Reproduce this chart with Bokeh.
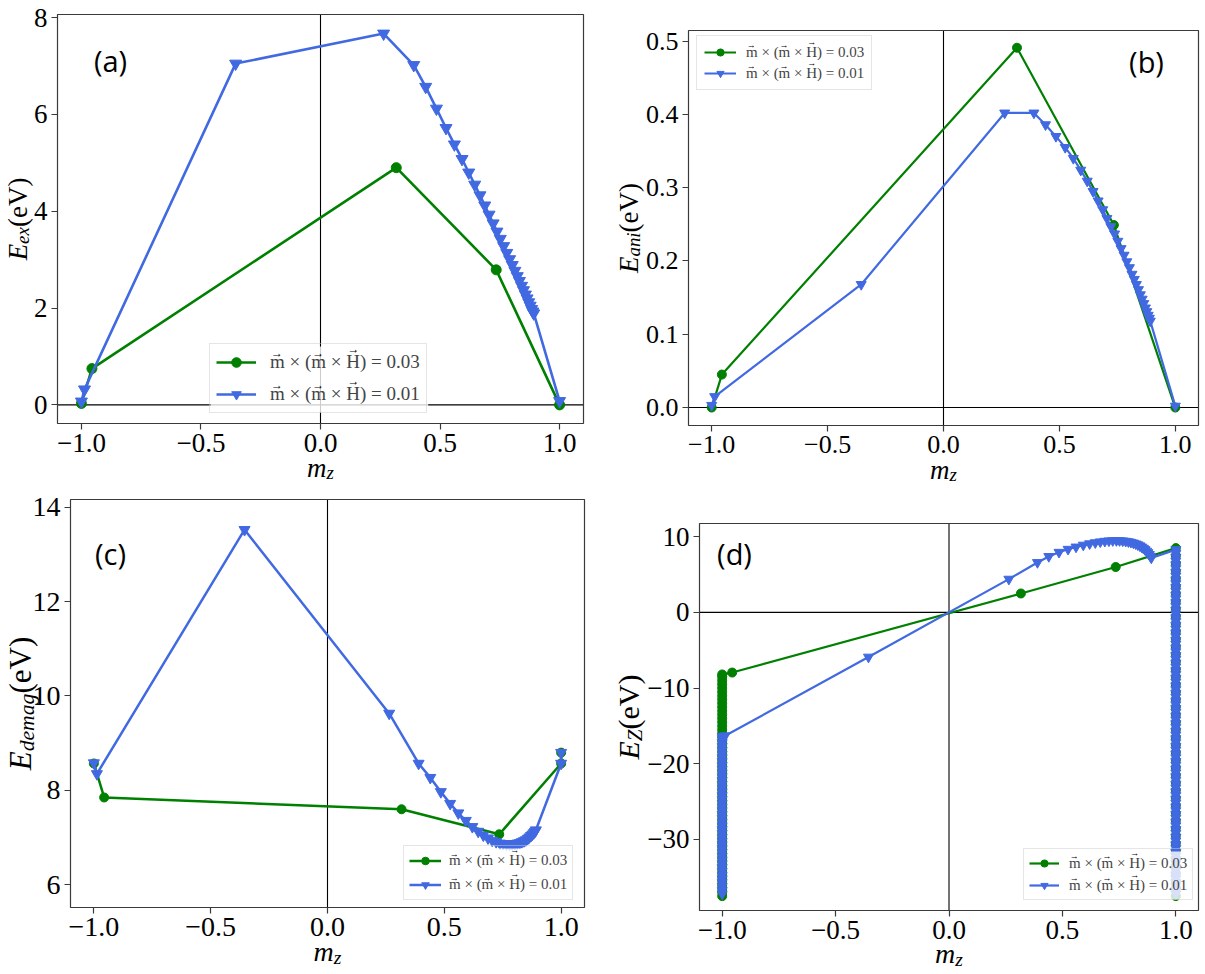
import math
from bokeh.plotting import figure
from bokeh.models import (Label, Legend, LegendItem, FixedTicker, Range1d, LinearAxis,
                          CustomJSTickFormatter)
from bokeh.embed import file_html
from bokeh.resources import INLINE

GREEN = "#008000"
BLUE = "#4169e1"
FRAME = "#3a3a3a"
SERIF = "Liberation Serif"
SANS = "Open Sans"
W, H = 1205, 974

LEG_03 = "m \u00d7 (m \u00d7 H) = 0.03"
LEG_01 = "m \u00d7 (m \u00d7 H) = 0.01"

X_TICKS = [-1.0, -0.5, 0.0, 0.5, 1.0]

# ---------------- shared trajectory (m_z) ----------------
green_mz_path = [-0.956, 0.317, 0.735]
blue_mz_path = [-0.987, -0.355, 0.264,
                0.390, 0.440, 0.485, 0.525, 0.560, 0.592, 0.620, 0.645, 0.667, 0.687,
                0.705, 0.722, 0.738, 0.752, 0.766, 0.779, 0.791, 0.802, 0.813, 0.823,
                0.832, 0.841, 0.849, 0.857, 0.864, 0.871, 0.877, 0.883, 0.888, 0.892]

# ---------------- (a) exchange energy ----------------
a_green_E = [0.03, 0.75, 4.90, 2.79, 0.0]
a_blue_E = [0.07, 0.32, 7.05, 7.67,
            7.02, 6.57, 6.12, 5.72, 5.38, 5.08, 4.80, 4.55, 4.33, 4.12,
            3.93, 3.75, 3.58, 3.43, 3.28, 3.14, 3.01, 2.89, 2.77, 2.66,
            2.56, 2.46, 2.37, 2.28, 2.20, 2.12, 2.05, 1.98, 1.93, 1.89,
            0.08]

# ---------------- (b) anisotropy energy ----------------
b_green_E = [0.0, 0.045, 0.491, 0.249, 0.0]
b_blue_E = [0.003, 0.015, 0.168, 0.402,
            0.402, 0.386, 0.370, 0.355, 0.340, 0.324, 0.309, 0.295, 0.282, 0.270,
            0.258, 0.247, 0.237, 0.227, 0.217, 0.208, 0.199, 0.191, 0.182, 0.175,
            0.168, 0.161, 0.154, 0.148, 0.142, 0.136, 0.131, 0.126, 0.122, 0.118,
            0.002]

# ---------------- (c) demagnetisation energy ----------------
c_green_E = [8.57, 7.85, 7.60, 7.07, 8.57, 8.80]
c_blue_E = [8.58, 8.35, 13.52, 9.63,
            8.57, 8.27, 7.97, 7.72, 7.52, 7.36, 7.23, 7.13, 7.05, 6.99,
            6.94, 6.91, 6.88, 6.87, 6.86, 6.86, 6.86, 6.87, 6.88, 6.89,
            6.91, 6.93, 6.95, 6.98, 7.01, 7.04, 7.07, 7.10, 7.13, 7.16,
            8.57, 8.80]

# ---------------- (d) Zeeman energy ----------------
d_green_left = [-37.5, -37.0, -36.5, -36.0, -35.5, -35.0, -34.5, -34.0, -33.5, -33.0,
                -32.5, -32.0, -31.5, -31.0, -30.5, -30.0, -29.5, -29.0, -28.5, -28.0,
                -27.5, -27.0, -26.5, -26.0, -25.5, -25.0, -24.5, -24.0, -23.5, -23.0,
                -22.5, -22.0, -21.5, -21.0, -20.5, -20.0, -19.5, -19.0, -18.5, -18.0,
                -17.5, -17.0, -16.5, -16.0, -15.5, -15.0, -14.5, -14.0, -13.5, -13.0,
                -12.5, -12.0, -11.5, -11.0, -10.5, -10.0, -9.5, -9.0, -8.5, -8.2]
d_green_mid = [-7.95, 2.5, 6.0]
d_green_right = [8.5, 7.5, 6.5, 5.5, 4.5, 3.5, 2.5, 1.5, 0.5, -0.5, -1.5, -2.5, -3.5,
                 -4.5, -5.5, -6.5, -7.5, -8.5, -9.5, -10.5, -11.5, -12.5, -13.5, -14.5,
                 -15.5, -16.5, -17.5, -18.5, -19.5, -20.5, -21.5, -22.5, -23.5, -24.5,
                 -25.5, -26.5, -27.5, -28.5, -29.5, -30.5, -31.5, -32.5, -33.5, -34.5,
                 -35.5, -36.5, -37.5]
d_blue_left = [-37.2, -36.7, -36.2, -35.7, -35.2, -34.7, -34.2, -33.7, -33.2, -32.7,
               -32.2, -31.7, -31.2, -30.7, -30.2, -29.7, -29.2, -28.7, -28.2, -27.7,
               -27.2, -26.7, -26.2, -25.7, -25.2, -24.7, -24.2, -23.7, -23.2, -22.7,
               -22.2, -21.7, -21.2, -20.7, -20.2, -19.7, -19.2, -18.7, -18.2, -17.7,
               -17.2, -16.7, -16.4]
d_blue_mid = [-16.3, -5.9, 4.4,
              6.6, 7.4, 7.95, 8.35, 8.65, 8.9, 9.08, 9.22, 9.33, 9.41,
              9.46, 9.49, 9.50, 9.49, 9.46, 9.41, 9.35, 9.27, 9.18, 9.07,
              8.95, 8.81, 8.66, 8.49, 8.31, 8.11, 7.90, 7.66, 7.43, 7.2]
d_blue_right = [8.3, 7.8, 7.3, 6.8, 6.3, 5.8, 5.3, 4.8, 4.3, 3.8, 3.3, 2.8, 2.3, 1.8,
                1.3, 0.8, 0.3, -0.2, -0.7, -1.2, -1.7, -2.2, -2.7, -3.2, -3.7, -4.2,
                -4.7, -5.2, -5.7, -6.2, -6.7, -7.2, -7.7, -8.2, -8.7, -9.2, -9.7, -10.2,
                -10.7, -11.2, -11.7, -12.2, -12.7, -13.2, -13.7, -14.2, -14.7, -15.2,
                -15.7, -16.2, -16.7, -17.2, -17.7, -18.2, -18.7, -19.2, -19.7, -20.2,
                -20.7, -21.2, -21.7, -22.2, -22.7, -23.2, -23.7, -24.2, -24.7, -25.2,
                -25.7, -26.2, -26.7, -27.2, -27.7, -28.2, -28.7, -29.2, -29.7, -30.2,
                -30.7, -31.2, -31.7, -32.2, -32.7, -33.2, -33.7, -34.2, -34.7, -35.2,
                -35.7, -36.2, -36.7, -37.2]

# approximate advance widths (Times metrics) for composing math-like labels
W_IT = {"E": 0.611, "e": 0.444, "x": 0.444, "a": 0.5, "n": 0.5, "i": 0.278, "d": 0.5,
        "m": 0.722, "g": 0.5, "Z": 0.556, "z": 0.389}
W_RM = {"(": 0.333, "e": 0.444, "V": 0.722, ")": 0.333}
LEG_TEXT_EM = 8.09   # width of the legend label in em


def tw(s, size, table):
    return sum(table[c] for c in s) * size


# one canvas; every panel gets its own pair of scales mapped onto its pixel box
p = figure(width=W, height=H, x_range=Range1d(0, W), y_range=Range1d(H, 0),
           min_border=0, x_axis_location=None, y_axis_location=None,
           output_backend="svg", toolbar_location=None,
           background_fill_color="white", border_fill_color="white",
           outline_line_color=None)
p.grid.visible = False


def lab(x, y, text, size, style="normal", angle=0.0, font=SERIF,
        align="left", baseline="alphabetic", level="annotation"):
    p.add_layout(Label(x=x, y=y, text=text, text_font=font,
                       text_font_size=f"{size}px", text_font_style=style,
                       angle=angle, text_align=align, text_baseline=baseline,
                       text_color="black", level=level))


def fmt(dec):
    return CustomJSTickFormatter(code=(
        "const s = Math.abs(tick).toFixed(%d);"
        "return (tick < -1e-9 ? '\u2212' : '') + s;" % dec))


def style_axis(ax, size):
    ax.axis_line_color = None
    ax.major_tick_out = 6
    ax.major_tick_in = 0
    ax.minor_tick_out = 0
    ax.minor_tick_in = 0
    ax.major_tick_line_color = FRAME
    ax.major_tick_line_width = 1.2
    ax.major_label_text_font = SERIF
    ax.major_label_text_font_size = f"{size}px"
    ax.major_label_text_color = "black"
    ax.major_label_standoff = 4


def panel(c):
    name = c["tag"]
    L, R, T, B = c["box"]
    x0, x1 = -1.1, 1.1
    y0, y1 = c["yr"]
    kx = (x1 - x0) / (R - L)
    ky = (y1 - y0) / (B - T)
    nx, ny = name + "x", name + "y"
    p.extra_x_ranges[nx] = Range1d(x0 - L * kx, x1 + (W - R) * kx)
    p.extra_y_ranges[ny] = Range1d(y0 - (H - B) * ky, y1 + T * ky)
    rn = dict(x_range_name=nx, y_range_name=ny)

    xa = LinearAxis(fixed_location=y0, ticker=FixedTicker(ticks=X_TICKS),
                    formatter=fmt(1), **rn)
    style_axis(xa, c["tick"])
    p.add_layout(xa, "below")
    ya = LinearAxis(fixed_location=x0, ticker=FixedTicker(ticks=c["yticks"]),
                    formatter=fmt(c["ydec"]), **rn)
    style_axis(ya, c["tick"])
    p.add_layout(ya, "left")

    # zero lines
    if c["hline"]:
        p.segment(x0=[x0], x1=[x1], y0=[0], y1=[0], line_color="black",
                  line_width=1.1, **rn)
    p.segment(x0=[0], x1=[0], y0=[y0], y1=[y1], line_color="black",
              line_width=1.1, **rn)

    gl = p.line(c["gx"], c["gy"], line_color=GREEN, line_width=c["lw"], **rn)
    gs = p.scatter(c["gx"], c["gy"], marker="circle", size=c["ms_c"],
                   fill_color=GREEN, line_color=GREEN, **rn)
    bl = p.line(c["bx"], c["by"], line_color=BLUE, line_width=c["lw"], **rn)
    bs = p.scatter(c["bx"], c["by"], marker="inverted_triangle", size=c["ms_t"],
                   fill_color=BLUE, line_color=BLUE, **rn)

    # axes frame
    p.quad(left=[x0], right=[x1], bottom=[y0], top=[y1], fill_color=None,
           line_color=FRAME, line_width=1.2, **rn)

    # legend: translucent white box under a transparent Bokeh legend
    G = c["leg"]
    lx, lbot = G["lb"]
    fs = G["fs"]
    n_items = 2
    h_leg = 2 * G["pad"] + n_items * G["gh"] + G["sp"]
    w_leg = 2 * G["pad"] + G["gw"] + G["so"] + LEG_TEXT_EM * fs
    ltop = lbot - h_leg
    p.quad(left=[lx + 1], right=[lx + w_leg - 1], top=[ltop + 1], bottom=[lbot - 1],
           fill_color="white", fill_alpha=0.8, line_color=None)
    legend = Legend(items=[LegendItem(label=LEG_03, renderers=[gl, gs]),
                           LegendItem(label=LEG_01, renderers=[bl, bs])],
                    location=(lx, H - lbot), margin=0, padding=G["pad"],
                    spacing=G["sp"], glyph_width=G["gw"], glyph_height=G["gh"],
                    label_height=G["gh"], label_standoff=G["so"],
                    label_text_font=SERIF, label_text_font_size=f"{fs}px",
                    border_line_color="#cccccc", border_line_width=1,
                    background_fill_alpha=0.0)
    p.add_layout(legend)
    # vector arrows over m, m, H in the legend labels
    tx = lx + G["pad"] + G["gw"] + G["so"]
    for k in range(n_items):
        ym = ltop + G["pad"] + G["gh"] / 2 + k * (G["gh"] + G["sp"])
        for cx, dy in ((0.389, 0.56), (2.564, 0.56), (4.42, 0.78)):
            lab(tx + cx * fs, ym - dy * fs, "\u2192", round(fs * 0.62), "normal", 0.0,
                SERIF, "center", "middle")

    # y label: E_sub(eV), rotated
    s = c["ylsize"]
    ss = s * 0.7
    w1 = tw("E", s, W_IT)
    w2 = tw(c["ysub"], ss, W_IT)
    w3 = tw("(eV)", s, W_RM)
    ys = c["ylc"] + (w1 + w2 + w3) / 2
    bx = c["ylx"]
    ang = math.pi / 2
    lab(bx, ys, "E", s, "italic", ang)
    lab(bx + 0.2 * s, ys - w1, c["ysub"], ss, "italic", ang)
    lab(bx, ys - w1 - w2, "(eV)", s, "normal", ang)

    # x label: m_z
    xs = c["xlsize"]
    xss = xs * 0.7
    wm = tw("m", xs, W_IT)
    wz = tw("z", xss, W_IT)
    xl0 = (L + R) / 2 - (wm + wz) / 2
    lab(xl0, c["xly"], "m", xs, "italic")
    lab(xl0 + wm, c["xly"] + 0.2 * xs, "z", xss, "italic")

    # panel tag
    lab(c["tag_xy"][0], c["tag_xy"][1], name, 29, "normal", 0.0, SANS,
        "center", "middle")


cfg_a = dict(box=(57, 583, 14, 423), yr=(-0.384, 8.064),
             yticks=[0, 2, 4, 6, 8], ydec=0, tick=27, hline=True,
             gx=[-1.0] + green_mz_path + [1.0], gy=a_green_E,
             bx=[-1.0] + blue_mz_path + [1.0], by=a_blue_E,
             lw=2.6, ms_c=10, ms_t=12,
             leg=dict(lb=(209, 413), pad=6, sp=8, gw=40, gh=24, so=14, fs=19),
             ysub="ex", ylsize=27, ylx=17, ylc=218.5, xlsize=27, xly=467,
             tag="(a)", tag_xy=(110, 60))

cfg_b = dict(box=(688, 1198, 30, 425), yr=(-0.0245, 0.5145),
             yticks=[0.0, 0.1, 0.2, 0.3, 0.4, 0.5], ydec=1, tick=26, hline=True,
             gx=[-1.0] + green_mz_path + [1.0], gy=b_green_E,
             bx=[-1.0] + blue_mz_path + [1.0], by=b_blue_E,
             lw=2.2, ms_c=9, ms_t=10,
             leg=dict(lb=(696, 90), pad=7, sp=3, gw=32, gh=18, so=10, fs=15),
             ysub="ani", ylsize=27, ylx=628, ylc=227.5, xlsize=27, xly=469,
             tag="(b)", tag_xy=(1146, 61))

cfg_c = dict(box=(70, 584, 499, 907), yr=(5.52, 14.16),
             yticks=[6, 8, 10, 12, 14], ydec=0, tick=28, hline=False,
             gx=[-1.0] + green_mz_path + [1.0, 1.0], gy=c_green_E,
             bx=[-1.0] + blue_mz_path + [1.0, 1.0], by=c_blue_E,
             lw=2.5, ms_c=9, ms_t=11,
             leg=dict(lb=(403, 900), pad=5, sp=5, gw=32, gh=19, so=8, fs=15),
             ysub="demag", ylsize=31, ylx=20, ylc=703, xlsize=28, xly=951,
             tag="(c)", tag_xy=(110, 553))

cfg_d = dict(box=(699, 1198, 523, 910), yr=(-39.4, 11.75),
             yticks=[-30, -20, -10, 0, 10], ydec=0, tick=27, hline=True,
             gx=[-1.0] * len(d_green_left) + green_mz_path + [1.0] * len(d_green_right),
             gy=d_green_left + d_green_mid + d_green_right,
             bx=[-1.0] * len(d_blue_left) + blue_mz_path + [1.0] * len(d_blue_right),
             by=d_blue_left + d_blue_mid + d_blue_right,
             lw=2.2, ms_c=9, ms_t=10,
             leg=dict(lb=(1023, 900), pad=5, sp=4, gw=30, gh=18, so=10, fs=15),
             ysub="Z", ylsize=30, ylx=628, ylc=716.5, xlsize=28, xly=953,
             tag="(d)", tag_xy=(734, 553))

for cfg in (cfg_a, cfg_b, cfg_c, cfg_d):
    panel(cfg)

open("out.html", "w").write(file_html(p, INLINE))
